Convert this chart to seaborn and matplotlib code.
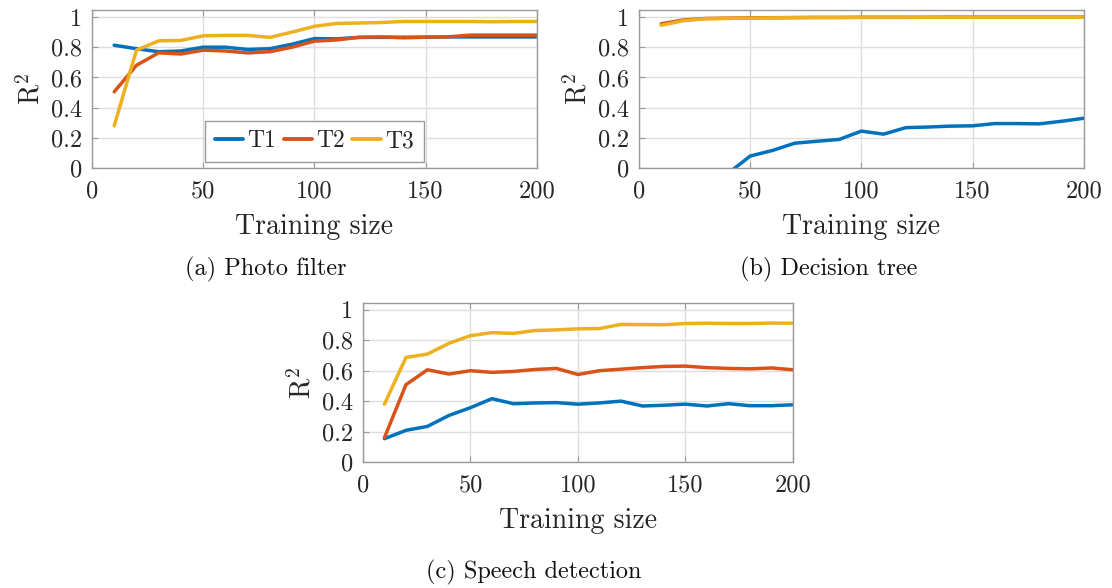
import numpy as np
import pandas as pd
import matplotlib
matplotlib.use("Agg")
import matplotlib.pyplot as plt
import seaborn as sns

# ---------------- data ----------------
training_size = [10, 20, 30, 40, 50, 60, 70, 80, 90, 100,
                 110, 120, 130, 140, 150, 160, 170, 180, 190, 200]
series_names = ["T1", "T2", "T3"]

photo_t1 = [0.813, 0.790, 0.770, 0.775, 0.800, 0.800, 0.785, 0.790, 0.820, 0.857,
            0.855, 0.865, 0.865, 0.866, 0.866, 0.868, 0.868, 0.868, 0.868, 0.868]
photo_t2 = [0.505, 0.680, 0.763, 0.755, 0.780, 0.775, 0.762, 0.770, 0.800, 0.840,
            0.848, 0.865, 0.868, 0.862, 0.866, 0.868, 0.880, 0.880, 0.880, 0.880]
photo_t3 = [0.280, 0.780, 0.842, 0.845, 0.875, 0.878, 0.878, 0.865, 0.900, 0.938,
            0.957, 0.960, 0.963, 0.970, 0.970, 0.970, 0.970, 0.968, 0.970, 0.970]

tree_t1 = [-1.500, -0.600, -0.200, -0.035, 0.080, 0.117, 0.165, 0.178, 0.190, 0.245,
           0.225, 0.268, 0.272, 0.278, 0.280, 0.295, 0.295, 0.293, 0.310, 0.330]
tree_t2 = [0.955, 0.980, 0.990, 0.992, 0.994, 0.995, 0.996, 0.997, 0.997, 0.998,
           0.998, 0.998, 0.998, 0.999, 0.999, 0.999, 0.999, 0.999, 0.999, 0.999]
tree_t3 = [0.945, 0.975, 0.988, 0.990, 0.992, 0.994, 0.995, 0.996, 0.996, 0.997,
           0.997, 0.997, 0.998, 0.998, 0.998, 0.998, 0.998, 0.998, 0.998, 0.998]

speech_t1 = [0.153, 0.208, 0.234, 0.306, 0.357, 0.416, 0.383, 0.388, 0.390, 0.380,
             0.388, 0.400, 0.368, 0.373, 0.380, 0.368, 0.383, 0.370, 0.370, 0.376]
speech_t2 = [0.160, 0.508, 0.606, 0.578, 0.600, 0.589, 0.595, 0.608, 0.615, 0.575,
             0.600, 0.610, 0.620, 0.628, 0.630, 0.620, 0.615, 0.612, 0.618, 0.606]
speech_t3 = [0.380, 0.687, 0.709, 0.780, 0.830, 0.850, 0.845, 0.864, 0.868, 0.875,
             0.877, 0.904, 0.903, 0.902, 0.910, 0.912, 0.910, 0.910, 0.913, 0.912]

captions = ["(a) Photo filter", "(b) Decision tree", "(c) Speech detection"]
x_ticks = [0, 50, 100, 150, 200]
y_ticks = [0, 0.2, 0.4, 0.6, 0.8, 1]
y_tick_labels = ["0", "0.2", "0.4", "0.6", "0.8", "1"]
x_label = "Training size"
y_label = "R$^2$"

colors = ["#0072BD", "#D95319", "#EDB120"]

# ---------------- style ----------------
sns.set_theme(style="white")
plt.rcParams["font.family"] = ["cmr10", "DejaVu Serif"]
plt.rcParams["mathtext.fontset"] = "cm"
plt.rcParams["axes.formatter.use_mathtext"] = True
plt.rcParams["axes.unicode_minus"] = False


def long_frame(t1, t2, t3):
    frames = []
    for name, vals in zip(series_names, [t1, t2, t3]):
        frames.append(pd.DataFrame({"size": training_size, "r2": vals, "series": name}))
    return pd.concat(frames, ignore_index=True)


fig = plt.figure(figsize=(11.12, 5.88), dpi=100)
positions = [
    [0.0827, 0.714, 0.400, 0.269],
    [0.5746, 0.714, 0.400, 0.269],
    [0.3264, 0.2143, 0.3867, 0.2707],
]
datasets = [
    long_frame(photo_t1, photo_t2, photo_t3),
    long_frame(tree_t1, tree_t2, tree_t3),
    long_frame(speech_t1, speech_t2, speech_t3),
]

axes = []
for i, (pos, df) in enumerate(zip(positions, datasets)):
    ax = fig.add_axes(pos)
    axes.append(ax)
    sns.lineplot(data=df, x="size", y="r2", hue="series", hue_order=series_names,
                 palette=colors, linewidth=2.5, ax=ax, legend=(i == 0))
    ax.set_xlim(0, 200)
    ax.set_ylim(0, 1.046)
    ax.set_xticks(x_ticks)
    ax.set_xticklabels([str(t) for t in x_ticks])
    ax.set_yticks(y_ticks)
    ax.set_yticklabels(y_tick_labels)
    ax.grid(True, axis="both", color="#dedede", linewidth=1.0)
    ax.set_axisbelow(True)
    for sp in ax.spines.values():
        sp.set_visible(True)
        sp.set_color("#9a9a9a")
        sp.set_linewidth(1.0)
    ax.tick_params(axis="x", direction="in", length=4, width=0.8, color="#9a9a9a",
                   top=True, bottom=True, labelsize=17.5, labelcolor="#262626", pad=9)
    ax.tick_params(axis="y", direction="in", length=4, width=0.8, color="#9a9a9a",
                   left=True, right=False, labelsize=17.5, labelcolor="#262626", pad=7)
    ax.set_xlabel(x_label, fontsize=20, color="#262626", labelpad=8)
    ax.set_ylabel(y_label, fontsize=20, color="#262626", labelpad=4)

# legend for panel (a)
leg_ax = axes[0]
handles, labels = leg_ax.get_legend_handles_labels()
leg = leg_ax.legend(handles, labels, loc="lower center", bbox_to_anchor=(0.5, 0.04),
                    ncol=3, fontsize=17, frameon=True, fancybox=False, framealpha=1,
                    edgecolor="#9a9a9a", handlelength=1.2, handletextpad=0.2,
                    columnspacing=0.3, borderpad=0.4, borderaxespad=0.0)
leg.get_frame().set_linewidth(1.0)
for ln in leg.get_lines():
    ln.set_linewidth(2.8)

# captions
fig.text(0.239, 0.541, captions[0], ha="center", va="center", fontsize=17.5, color="#111111")
fig.text(0.745, 0.541, captions[1], ha="center", va="center", fontsize=17.5, color="#111111")
fig.text(0.480, 0.027, captions[2], ha="center", va="center", fontsize=17.5, color="#111111")

fig.savefig("out.png", dpi=100, facecolor="white")
